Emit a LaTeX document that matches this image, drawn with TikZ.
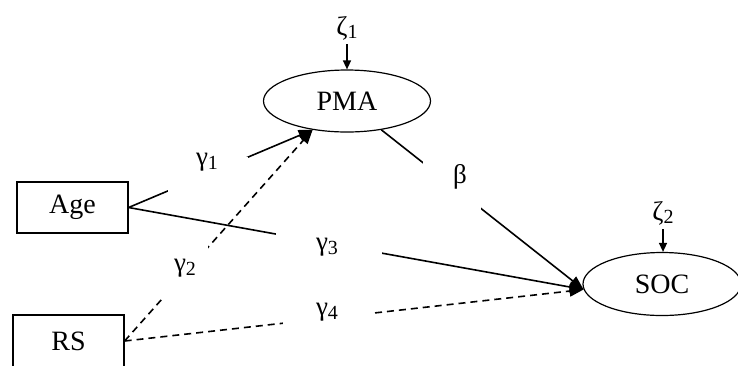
\documentclass[tikz,border=0pt]{standalone}
\usepackage{fontspec}
\setmainfont{Liberation Serif}
\usetikzlibrary{shapes.geometric,arrows.meta}
\newcommand\lowsub[1]{\raisebox{-0.3ex}{\fontsize{20}{21}\selectfont #1}}
\begin{document}
\begin{tikzpicture}[x=1pt,y=-1pt,
  box/.style={draw,line width=1.2pt,minimum width=111pt,minimum height=51pt,inner sep=0pt,font=\fontsize{28}{30}\selectfont},
  latent/.style={draw,ellipse,line width=1.2pt,inner sep=0pt,font=\fontsize{28}{30}\selectfont},
  conn/.style={line width=1.6pt,-{Triangle[length=14pt,width=11pt]}},
  dconn/.style={conn,dash pattern=on 7pt off 5pt},
  cover/.style={fill=white,inner sep=0pt},
  coef/.style={inner sep=0pt,font=\fontsize{27}{29}\selectfont},
  err/.style={line width=1.4pt,-{Triangle[length=9pt,width=8pt]}}
]
\useasboundingbox (0,0) rectangle (738,365);
\node[box] (age) at (72.5,207.5) {Age};
\node[box,minimum height=52pt] (rs) at (68.5,341) {RS};
\node[latent,minimum width=167pt,minimum height=62pt] (pma) at (347,101) {PMA};
\node[latent,minimum width=158pt,minimum height=63pt] (soc) at (662,284) {SOC};
\node[coef] (z1) at (347,28) {ζ\lowsub{1}};
\node[coef] (z2) at (663,213) {ζ\lowsub{2}};
\draw[err] (z1.south) ++(0,4) coordinate (z1b) -- (pma.north);
\draw[err] (z2.south) ++(0,4) coordinate (z2b) -- (z2b |- soc.north);
\draw[conn] (age.east) -- (pma.220);
\draw[dconn] (rs.east) -- (pma.220);
\draw[conn] (age.east) -- (soc.184);
\draw[dconn] (rs.east) -- (soc.184);
\draw[conn] (pma.-40) -- (soc.184);
% white label backgrounds that break the connectors
\node[cover,minimum width=80pt,minimum height=38pt] (c1) at (208,176) {};
\node[cover,minimum width=46pt,minimum height=52pt] (c2) at (185,272) {};
\node[cover,minimum width=106pt,minimum height=30pt] (c3) at (329,244) {};
\node[cover,minimum width=88pt,minimum height=24pt] (c4) at (327,318) {};
\node[cover,minimum width=58pt,minimum height=50pt] (cb) at (452,186) {};
\node[coef] (g1) at (207,162) {γ\lowsub{1}};
\node[coef] (g2) at (185,268) {γ\lowsub{2}};
\node[coef] (g3) at (327,247) {γ\lowsub{3}};
\node[coef] (g4) at (327,312) {γ\lowsub{4}};
\node[coef] (b) at (460,177) {β};
\end{tikzpicture}
\end{document}
